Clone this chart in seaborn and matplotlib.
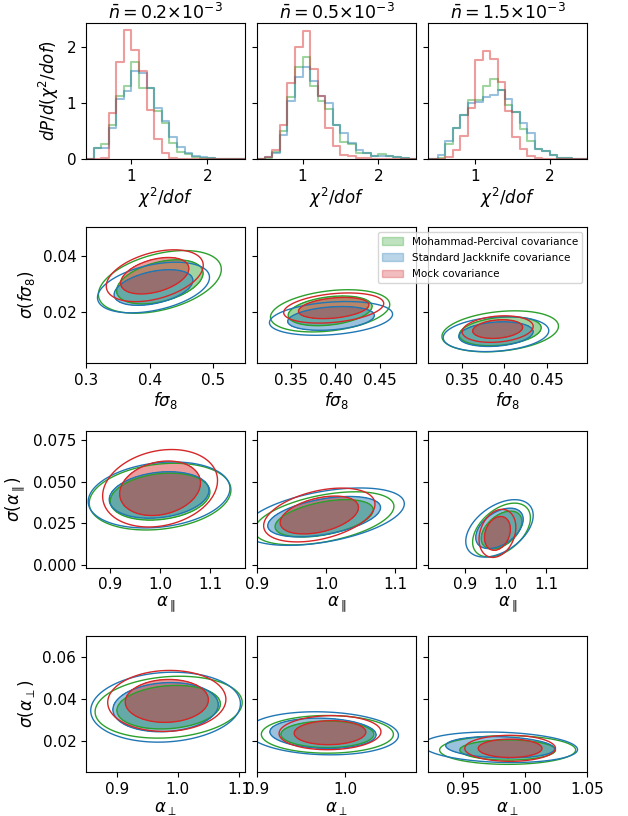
import numpy as np
import pandas as pd
import matplotlib
matplotlib.use("Agg")
import matplotlib.pyplot as plt
from matplotlib.patches import Patch
import seaborn as sns

# ---------------- data ----------------
series_labels = ["Mohammad-Percival covariance", "Standard Jackknife covariance", "Mock covariance"]
series_colors = ["tab:green", "tab:blue", "tab:red"]
density_titles = [r"$\bar{n}=0.2{\times}10^{-3}$", r"$\bar{n}=0.5{\times}10^{-3}$", r"$\bar{n}=1.5{\times}10^{-3}$"]

chi2_bin_edges = [0.5, 0.6, 0.7, 0.8, 0.9, 1.0, 1.1, 1.2, 1.3, 1.4, 1.5,
                  1.6, 1.7, 1.8, 1.9, 2.0, 2.1, 2.2, 2.3, 2.4]

# dP/d(chi2/dof) per bin, rows = [MP, SJ, Mock]
chi2_hist_n02 = [
    [0.20, 0.26, 0.60, 1.12, 1.30, 1.74, 1.27, 1.26, 0.85, 0.64, 0.29, 0.12, 0.09, 0.04, 0.02, 0.01, 0.00, 0.00, 0.00],
    [0.20, 0.20, 0.55, 1.07, 1.22, 1.57, 1.54, 1.27, 0.91, 0.68, 0.39, 0.22, 0.10, 0.05, 0.03, 0.01, 0.00, 0.00, 0.00],
    [0.00, 0.02, 0.82, 1.73, 2.31, 1.95, 1.57, 0.88, 0.36, 0.10, 0.02, 0.00, 0.00, 0.00, 0.00, 0.00, 0.00, 0.00, 0.00],
]
chi2_hist_n05 = [
    [0.02, 0.12, 0.50, 1.10, 1.64, 1.82, 1.31, 1.03, 0.89, 0.60, 0.30, 0.27, 0.10, 0.11, 0.05, 0.09, 0.06, 0.03, 0.02],
    [0.04, 0.10, 0.43, 1.03, 1.46, 1.64, 1.39, 1.13, 1.00, 0.60, 0.46, 0.29, 0.17, 0.11, 0.05, 0.05, 0.06, 0.03, 0.02],
    [0.03, 0.17, 0.60, 1.35, 2.00, 2.28, 1.60, 1.12, 0.55, 0.23, 0.08, 0.05, 0.02, 0.01, 0.00, 0.00, 0.00, 0.00, 0.00],
]
chi2_hist_n15 = [
    [0.01, 0.27, 0.55, 0.78, 1.05, 1.06, 1.30, 1.42, 1.23, 0.96, 0.84, 0.54, 0.33, 0.18, 0.14, 0.07, 0.02, 0.01, 0.00],
    [0.07, 0.32, 0.55, 0.78, 1.00, 1.02, 1.10, 1.15, 1.24, 1.07, 0.84, 0.64, 0.46, 0.18, 0.14, 0.07, 0.02, 0.01, 0.00],
    [0.00, 0.04, 0.17, 0.42, 0.91, 1.76, 1.93, 1.79, 1.37, 0.86, 0.40, 0.18, 0.05, 0.02, 0.00, 0.00, 0.00, 0.00, 0.00],
]

# Gaussian summaries of the posterior clouds, [series][density column]
fs8_center_x = [[0.416, 0.394, 0.395], [0.406, 0.395, 0.390], [0.408, 0.398, 0.392]]
fs8_center_y = [[0.0308, 0.0205, 0.0132], [0.0288, 0.0178, 0.0122], [0.0330, 0.0215, 0.0140]]
fs8_sd_x = [[0.045, 0.031, 0.032], [0.041, 0.032, 0.029], [0.0355, 0.026, 0.0195]]
fs8_sd_y = [[0.0052, 0.0035, 0.0034], [0.0042, 0.0028, 0.0029], [0.0043, 0.0025, 0.0022]]
fs8_corr = [[0.40, 0.30, 0.25], [0.40, 0.25, 0.20], [0.40, 0.30, 0.20]]

apar_center_x = [[1.000, 0.997, 0.990], [0.998, 0.997, 0.985], [1.000, 0.990, 0.980]]
apar_center_y = [[0.041, 0.028, 0.021], [0.042, 0.029, 0.022], [0.046, 0.030, 0.019]]
apar_sd_x = [[0.066, 0.047, 0.033], [0.066, 0.054, 0.0385], [0.0535, 0.0375, 0.021]]
apar_sd_y = [[0.0093, 0.0074, 0.0075], [0.0092, 0.0080, 0.0080], [0.0108, 0.0075, 0.0067]]
apar_corr = [[0.20, 0.45, 0.45], [0.20, 0.45, 0.45], [0.20, 0.40, 0.25]]

aper_center_x = [[0.985, 0.980, 0.986], [0.980, 0.975, 0.980], [0.982, 0.983, 0.988]]
aper_center_y = [[0.036, 0.023, 0.0155], [0.036, 0.0235, 0.0168], [0.039, 0.0238, 0.0163]]
aper_sd_x = [[0.056, 0.035, 0.0255], [0.057, 0.040, 0.029], [0.045, 0.027, 0.017]]
aper_sd_y = [[0.0069, 0.0042, 0.0032], [0.0078, 0.0048, 0.0034], [0.0068, 0.0038, 0.0029]]
aper_corr = [[0.15, 0.00, 0.00], [0.10, -0.10, -0.15], [0.05, 0.05, 0.00]]

# enclosed probability of the filled region and of the outer line
inner_mass = 0.68
outer_mass = 0.90

# ---------------- axes configuration ----------------
row_xlabels = [r"$\chi^2/dof$", r"$f\sigma_8$", r"$\alpha_\parallel$", r"$\alpha_\perp$"]
row_ylabels = [r"$dP/d(\chi^2/dof)$", r"$\sigma(f\sigma_8)$", r"$\sigma(\alpha_\parallel)$", r"$\sigma(\alpha_\perp)$"]
row_ylims = [(0, 2.43), (0.0018, 0.0503), (-0.0015, 0.080), (0.005, 0.0702)]
row_yticks = [[0, 1, 2], [0.02, 0.04], [0.0, 0.025, 0.05, 0.075], [0.02, 0.04, 0.06]]
panel_xlims = [
    [(0.4, 2.5), (0.4, 2.5), (0.37, 2.5)],
    [(0.3, 0.55), (0.3125, 0.49), (0.31, 0.4975)],
    [(0.852, 1.17), (0.9, 1.13), (0.81, 1.2)],
    [(0.85, 1.11), (0.9, 1.081), (0.922, 1.05)],
]
panel_xticks = [
    [[1, 2], [1, 2], [1, 2]],
    [[0.3, 0.4, 0.5], [0.35, 0.40, 0.45], [0.35, 0.40, 0.45]],
    [[0.9, 1.0, 1.1], [0.9, 1.0, 1.1], [0.9, 1.0, 1.1]],
    [[0.9, 1.0, 1.1], [0.9, 1.0], [0.95, 1.00, 1.05]],
]


def mahalanobis_grid(mx, my, sx, sy, rho, n=220):
    gx = np.linspace(mx - 5 * sx, mx + 5 * sx, n)
    gy = np.linspace(my - 5 * sy, my + 5 * sy, n)
    xx, yy = np.meshgrid(gx, gy)
    u = (xx - mx) / sx
    v = (yy - my) / sy
    q = (u ** 2 - 2 * rho * u * v + v ** 2) / (1 - rho ** 2)
    return xx, yy, q


q_inner = -2.0 * np.log(1.0 - inner_mass)
q_outer = -2.0 * np.log(1.0 - outer_mass)

fig, axes = plt.subplots(4, 3, figsize=(6.28, 8.16), dpi=100, sharey="row")
fig.subplots_adjust(left=0.137, right=0.935, top=0.972, bottom=0.054,
                    wspace=0.075, hspace=0.5)

# ---- row 1: chi2 histograms ----
edges = np.array(chi2_bin_edges)
pad_edges = np.concatenate([[edges[0] - 0.1], edges, [edges[-1] + 0.1]])
centers = 0.5 * (pad_edges[:-1] + pad_edges[1:])
hist_sets = [chi2_hist_n02, chi2_hist_n05, chi2_hist_n15]
for j in range(3):
    ax = axes[0, j]
    for s in range(3):
        h = np.concatenate([[0.0], hist_sets[j][s], [0.0]])
        df = pd.DataFrame({"chi2": centers, "h": h})
        sns.histplot(data=df, x="chi2", weights="h", bins=[float(e) for e in pad_edges],
                     element="step", fill=False, color=series_colors[s], alpha=0.45,
                     linewidth=1.5, ax=ax)
    ax.set_title(density_titles[j], fontsize=12.5, pad=0)

# ---- rows 2-4: contour clouds ----
param_sets = [
    (fs8_center_x, fs8_center_y, fs8_sd_x, fs8_sd_y, fs8_corr),
    (apar_center_x, apar_center_y, apar_sd_x, apar_sd_y, apar_corr),
    (aper_center_x, aper_center_y, aper_sd_x, aper_sd_y, aper_corr),
]
for r, (cx, cy, sdx, sdy, cr) in enumerate(param_sets, start=1):
    for j in range(3):
        ax = axes[r, j]
        grids = [mahalanobis_grid(cx[s][j], cy[s][j], sdx[s][j], sdy[s][j], cr[s][j]) for s in range(3)]
        for s in range(3):
            xx, yy, q = grids[s]
            ax.contourf(xx, yy, q, levels=[0.0, q_inner], colors=[series_colors[s]], alpha=0.45)
        for s in range(3):
            xx, yy, q = grids[s]
            ax.contour(xx, yy, q, levels=[q_inner, q_outer], colors=[series_colors[s]], linewidths=1.0)

# ---- axes styling ----
for r in range(4):
    for j in range(3):
        ax = axes[r, j]
        ax.set_xlim(*panel_xlims[r][j])
        ax.set_xticks(panel_xticks[r][j])
        ax.set_xlabel(row_xlabels[r], fontsize=12, labelpad=1.5)
        ax.set_ylabel(row_ylabels[r] if j == 0 else "", fontsize=12)
        ax.tick_params(labelsize=11)
    axes[r, 0].set_yticks(row_yticks[r])
    axes[r, 0].set_ylim(*row_ylims[r])

handles = [Patch(facecolor=c, edgecolor=c, alpha=0.3, label=l)
           for c, l in zip(series_colors, series_labels)]
axes[1, 2].legend(handles=handles, loc="upper right", fontsize=7.5, labelspacing=0.6)

fig.savefig("out.png", dpi=100)
